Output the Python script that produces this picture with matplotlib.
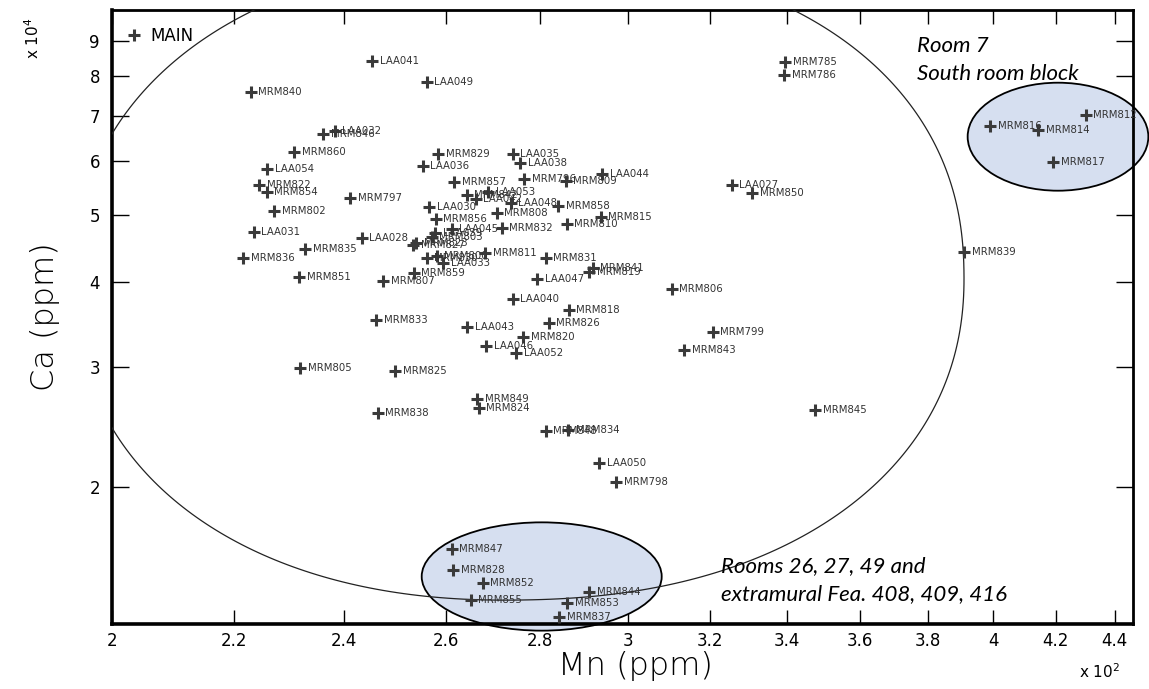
import numpy as np
import matplotlib.pyplot as plt
from matplotlib.patches import Ellipse, Polygon
from matplotlib.lines import Line2D

# sample ids, Mn and Ca in ppm
sample_ids = ['LAA041', 'LAA049', 'MRM840', 'LAA032', 'MRM846', 'MRM860', 'LAA054',
              'MRM822', 'MRM854', 'MRM797', 'MRM802', 'LAA031', 'LAA028', 'MRM835',
              'MRM836', 'MRM851', 'MRM807', 'MRM833', 'MRM805', 'MRM825', 'MRM838',
              'MRM827', 'MRM823', 'MRM829', 'LAA036', 'LAA035', 'LAA038', 'MRM857',
              'MRM796', 'MRM809', 'LAA044', 'LAA053', 'MRM842', 'LAA042', 'LAA030',
              'LAA048', 'MRM858', 'MRM808', 'MRM856', 'MRM815', 'MRM810', 'MRM832',
              'LAA045', 'LAA039', 'MRM803', 'MRM830', 'MRM800', 'LAA033', 'MRM811',
              'MRM831', 'MRM841', 'MRM819', 'MRM859', 'LAA047', 'MRM806', 'LAA040',
              'MRM818', 'MRM826', 'LAA043', 'MRM820', 'MRM799', 'LAA046', 'LAA052',
              'MRM843', 'MRM849', 'MRM824', 'MRM848', 'MRM834', 'LAA050', 'MRM798',
              'MRM847', 'MRM828', 'MRM852', 'MRM844', 'MRM855', 'MRM853', 'MRM837',
              'MRM785', 'MRM786', 'LAA027', 'MRM850', 'MRM839', 'MRM816', 'MRM814',
              'MRM812', 'MRM817', 'MRM845']
mn_ppm = [245.3, 256.1, 223.0, 238.2, 236.1, 230.7, 225.9,
          224.5, 225.8, 241.1, 227.1, 223.5, 243.3, 232.7,
          221.7, 231.7, 247.5, 246.1, 231.8, 249.8, 246.4,
          253.4, 254.0, 258.4, 255.3, 274.0, 275.6, 261.7,
          276.5, 285.7, 294.0, 268.8, 264.3, 266.2, 256.6,
          273.6, 284.0, 270.6, 257.9, 293.7, 285.9, 271.7,
          261.2, 257.8, 257.1, 256.1, 258.1, 259.5, 268.1,
          281.2, 291.8, 291.0, 253.5, 279.4, 310.5, 274.0,
          286.4, 281.9, 264.4, 276.3, 320.7, 268.4, 274.8,
          313.6, 266.5, 266.8, 281.2, 286.2, 293.3, 297.3,
          261.2, 261.5, 267.6, 291.0, 265.1, 286.0, 284.2,
          339.6, 339.3, 325.5, 330.9, 390.8, 399.0, 414.3,
          430.1, 419.2, 347.7]
ca_ppm = [84140, 78480, 75880, 66540, 65740, 61980, 58400,
          55390, 54050, 53070, 50740, 47330, 46380, 44600,
          43270, 40580, 40090, 35140, 29870, 29620, 25660,
          45250, 45500, 61500, 59120, 61500, 59600, 55900,
          56540, 56220, 57500, 54160, 53550, 52780, 51380,
          52080, 51660, 50440, 49380, 49780, 48520, 47980,
          47720, 47080, 46440, 43270, 43600, 42620, 44000,
          43360, 41920, 41360, 41220, 40360, 38980, 37720,
          36340, 34800, 34300, 33220, 33720, 32180, 31400,
          31760, 26920, 26100, 24200, 24260, 21720, 20370,
          16240, 15130, 14500, 14060, 13670, 13520, 12900,
          83780, 80260, 55390, 53880, 44160, 67600, 66680,
          70140, 59800, 25940]

x_ticks = [200, 220, 240, 260, 280, 300, 320, 340, 360, 380, 400, 420, 440]
y_ticks = [20000, 30000, 40000, 50000, 60000, 70000, 80000, 90000]

W, H = 1149, 689
fig = plt.figure(figsize=(W / 100, H / 100), dpi=100)
ax = fig.add_axes([112.4 / W, 1 - 624 / H, (1133 - 112.4) / W, (624 - 9.8) / H])
ax.set_xscale('log')
ax.set_yscale('log')
ax.set_xlim(200, 446.4)
ax.set_ylim(12614, 100000)

mk = '#3a3a3a'
ax.plot(mn_ppm, ca_ppm, ls='none', marker='+', ms=9, mew=2.2, color=mk, zorder=4)
for name, x, y in zip(sample_ids, mn_ppm, ca_ppm):
    ax.annotate(name, (x, y), xytext=(5.5, 0), textcoords='offset points',
                fontsize=7.3, color='#333333', va='center', ha='left', zorder=5)

# legend
h = Line2D([], [], ls='none', marker='+', ms=9, mew=2.2, color=mk)
ax.legend([h], ['MAIN'], loc='upper left', bbox_to_anchor=(0.0065, 0.983),
          frameon=False, fontsize=12, handlelength=1.0, handletextpad=0.5,
          borderaxespad=0)

# shapes drawn in pixel units (figure saved at 100 dpi)
def px_ell(cx, cy, w, hh, **kw):
    return Ellipse((cx / 100, (H - cy) / 100), w / 100, hh / 100,
                   transform=fig.dpi_scale_trans, **kw)

# large grouping curve (slightly squarish ellipse)
t = np.linspace(0, 2 * np.pi, 400)
n = 2.2
cu, cv, a, b, rot = 519, 278, 445, 322, np.radians(1.0)
u = a * np.sign(np.cos(t)) * np.abs(np.cos(t)) ** (2 / n)
v = b * np.sign(np.sin(t)) * np.abs(np.sin(t)) ** (2 / n)
px = cu + u * np.cos(rot) + v * np.sin(rot)
py = cv - u * np.sin(rot) + v * np.cos(rot)
big = Polygon(np.column_stack([px / 100, (H - py) / 100]), closed=True, fill=False,
              ec='#222222', lw=0.9, zorder=3, transform=fig.dpi_scale_trans)
ax.add_patch(big)
big.set_clip_path(ax.patch)

for cx, cy, w, hh in [(1058, 136.7, 180.7, 108), (541.7, 576.5, 240, 108.3)]:
    e = px_ell(cx, cy, w, hh, fc='#d6dff0', ec='black', lw=1.3, zorder=2, clip_on=False)
    ax.add_patch(e)

nfont = dict(fontsize=16, fontstyle='italic', family='Lato')
fig.text(917 / W, 1 - 52 / H, 'Room 7', **nfont)
fig.text(917 / W, 1 - 80 / H, 'South room block', **nfont)
fig.text(721 / W, 1 - 572 / H, 'Rooms 26, 27, 49 and', **nfont)
fig.text(721 / W, 1 - 600 / H, 'extramural Fea. 408, 409, 416', **nfont)

# ticks
ax.minorticks_off()
ax.set_xticks(x_ticks)
ax.set_xticklabels(['%g' % (v / 100) for v in x_ticks])
ax.set_yticks(y_ticks)
ax.set_yticklabels(['%d' % (v / 10000) for v in y_ticks])
ax.tick_params(which='both', direction='in', top=True, right=True, length=10, width=1,
               labelsize=12, pad=6)
ax.tick_params(axis='y', length=12, pad=9)
for lab in ax.get_xticklabels() + ax.get_yticklabels():
    lab.set_family(['Liberation Sans Narrow', 'DejaVu Sans'])

for s in ['left', 'bottom']:
    ax.spines[s].set_linewidth(2.6)
for s in ['top', 'right']:
    ax.spines[s].set_linewidth(2)

ax.set_xlabel('Mn (ppm)', fontsize=23, fontweight='light')
ax.set_ylabel('Ca (ppm)', fontsize=23, fontweight='light')
ax.xaxis.set_label_coords(0.512, -0.068)
ax.yaxis.set_label_coords(-0.066, 0.5)
ax.xaxis.label.set_va('center')
ax.yaxis.label.set_va('center')

fig.text(33 / W, 1 - 38 / H, r'x 10$^4$', rotation=90, ha='center', va='center', fontsize=11)
fig.text(1100 / W, 1 - 672 / H, r'x 10$^2$', ha='center', va='center', fontsize=11)

fig.savefig('out.png', dpi=100)
